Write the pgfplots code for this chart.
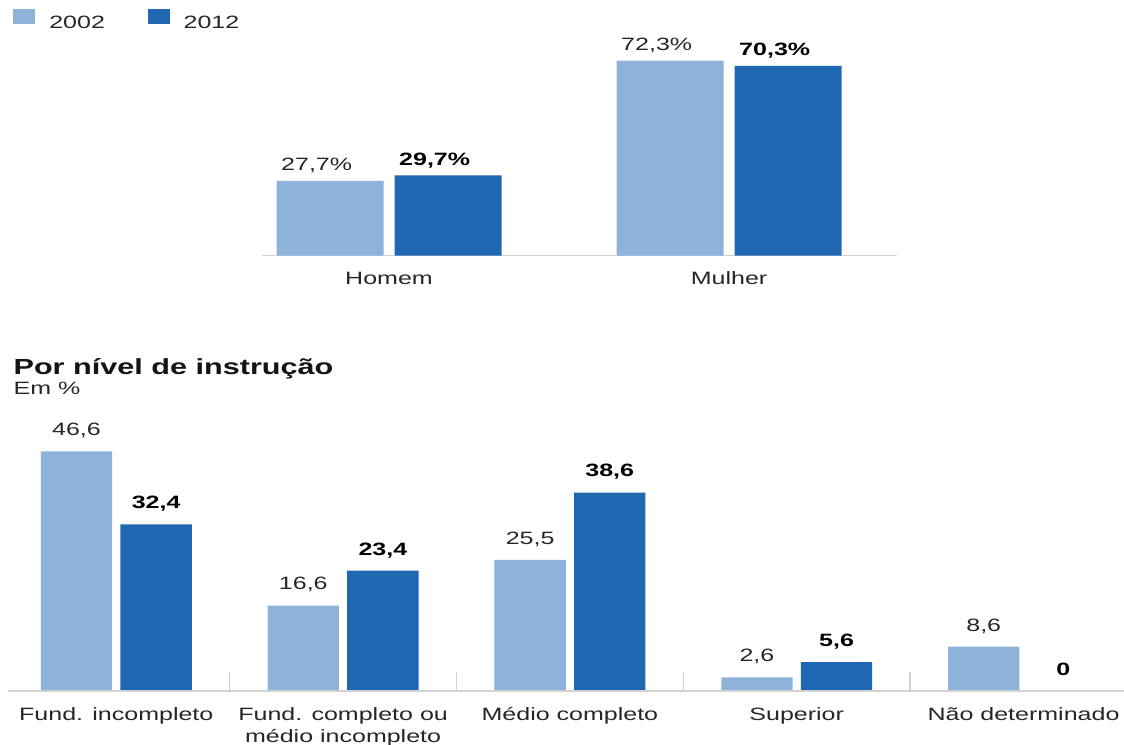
\documentclass[border=0pt]{standalone}
\usepackage{pgfplots}
\pgfplotsset{compat=1.18}
\usepackage{fontspec}
\setmainfont{Liberation Sans}[FakeStretch=1.4]
\definecolor{c02}{HTML}{8DB3DA}
\definecolor{c12}{HTML}{1F67B1}
\definecolor{txt}{HTML}{262626}
\definecolor{axl}{HTML}{D2D2D2}

\begin{document}
\begin{tikzpicture}
\useasboundingbox (0pt,0pt) rectangle (843pt,558.75pt);
\pgfplotsset{
  base/.style={
    scale only axis, clip=false,
    axis x line*=bottom, axis y line=none,
    ytick=\empty, ymin=0,
    x axis line style={draw=axl, line width=1.1pt},
    major tick length=0pt,
    xticklabel style={font=\fontsize{13.4}{16.5}\selectfont, text=txt, inner sep=0pt, anchor=north, align=center},
    xticklabel shift=12pt,
    /pgf/number format/assume math mode=true,
    point meta=y,
    every node near coord/.append style={font=\fontsize{13.4}{16}\selectfont, inner sep=0pt, anchor=south, text depth=0pt},
  },
  s02/.style={fill=c02, draw=none, every node near coord/.append style={text=txt}},
  s12/.style={fill=c12, draw=none, every node near coord/.append style={text=black, font=\fontsize{13.4}{16}\selectfont\bfseries}},
}

% ---------- top chart ----------
\begin{axis}[base, ybar,
  at={(196.5pt,367.1pt)}, anchor=south west,
  width=476.25pt, height=161.8pt,
  xmin=-0.3735, xmax=1.494, ymax=80,
  bar width=80.25pt,
  xtick={0,1}, xticklabels={Homem,Mulher},
  nodes near coords={\pgfmathprintnumber[fixed,precision=1,use comma]{\pgfplotspointmeta}\%},
  every node near coord/.append style={yshift=7.5pt, xshift=-10pt},
  legend style={at={(-0.3916,1.1415)}, anchor=north west, draw=none, fill=none,
    inner sep=0pt, outer sep=0pt, legend columns=2,
    font=\fontsize{13.4}{16}\selectfont, text=txt,
    nodes={inner sep=0pt},
    /tikz/every even column/.append style={column sep=32pt}},
  legend image code/.code={\fill[#1] (0pt,-0.75pt) rectangle (16.5pt,10.25pt); \path (27pt,0pt);},
]
\addplot[s02, bar shift=-44.25pt] coordinates {(0,27.7) (1,72.3)};
\addplot[s12, bar shift=44.25pt] coordinates {(0,29.7) (1,70.3)};
\legend{2002,2012}
\end{axis}

% ---------- bottom chart ----------
\begin{axis}[base, ybar, axis on top,
  at={(6pt,40.65pt)}, anchor=south west,
  width=837pt, height=192.6pt,
  xmin=-0.4775, xmax=4.443, ymax=50,
  bar width=53.5pt,
  xtick={0,1,2,3,4},
  xticklabels={Fund. incompleto, {Fund. completo ou\\médio incompleto}, Médio completo, Superior, Não determinado},
  extra x ticks={0.5,1.5,2.5,3.5},
  extra x tick labels={},
  extra x tick style={major tick length=14.25pt, tick align=inside, tick style={draw=axl, line width=1.1pt}},
  nodes near coords={\pgfmathprintnumber[fixed,precision=1,use comma]{\pgfplotspointmeta}},
  every node near coord/.append style={yshift=11.5pt},
]
\addplot[s02, bar shift=-29.85pt] coordinates {(0,46.6) (1,16.6) (2,25.5) (3,2.6) (4,8.6)};
\addplot[s12, bar shift=29.85pt] coordinates {(0,32.4) (1,23.4) (2,38.6) (3,5.6) (4,0)};
\end{axis}

\node[anchor=base west, inner sep=0pt, font=\fontsize{16.4}{19}\selectfont\bfseries, text=black!92] at (10pt,277.5pt) {Por nível de instrução};
\node[anchor=base west, inner sep=0pt, font=\fontsize{13.4}{16}\selectfont, text=txt] at (10pt,262.5pt) {Em \%};
\end{tikzpicture}
\end{document}
